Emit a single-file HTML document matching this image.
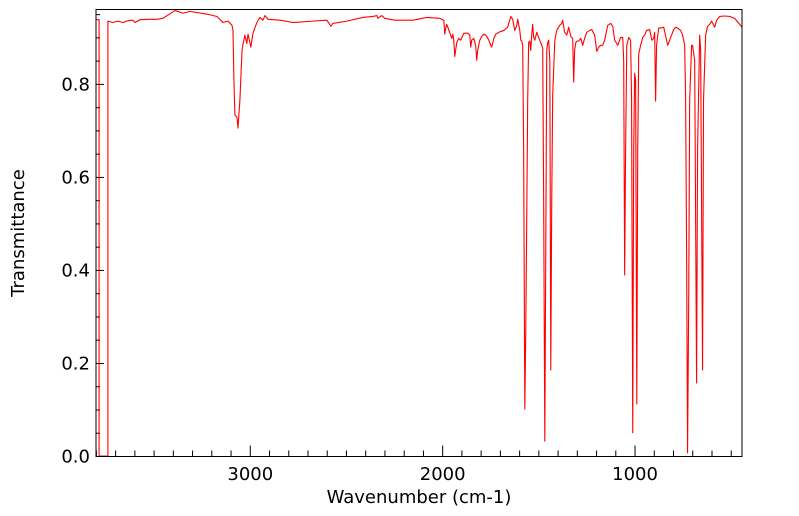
<!DOCTYPE html>
<html><head><meta charset="utf-8"><style>
html,body{margin:0;padding:0;background:#fff;}
svg{display:block;font-family:"DejaVu Sans","Liberation Sans",sans-serif;}
</style></head><body>
<svg id="chart" width="799" height="516" viewBox="0 0 799 516" xmlns="http://www.w3.org/2000/svg">
<rect x="0" y="0" width="799" height="516" fill="#fff"/>
<g id="ticks"></g>
<path id="spectrum" fill="none" stroke="#ff0000" stroke-width="1.1" stroke-linejoin="round"/>
<rect x="96" y="9.5" width="646" height="447" fill="none" stroke="#000" stroke-width="1"/>
<text x="419" y="503" font-size="18" text-anchor="middle">Wavenumber (cm-1)</text>
<text x="24" y="233" font-size="18" text-anchor="middle" transform="rotate(-90 24 233)">Transmittance</text>
</svg>
<script>
const wavenumbers = [3802,3786,3786,3740,3740,3714,3688,3662,3636,3610,3599,3574,3522,3485,3454,3391,3350,3314,3225,3173,3142,3116,3095,3090,3085,3080,3069,3064,3054,3043,3038,3028,3018,3012,2997,2986,2966,2950,2934,2924,2908,2846,2778,2675,2602,2581,2571,2498,2415,2363,2342,2337,2316,2301,2249,2155,2082,2015,1994,1989,1984,1979,1973,1968,1963,1953,1947,1942,1937,1927,1916,1906,1890,1880,1869,1859,1854,1849,1838,1828,1823,1818,1807,1797,1786,1776,1760,1750,1745,1734,1724,1703,1682,1662,1646,1636,1625,1615,1610,1599,1594,1589,1584,1579,1573,1568,1563,1558,1553,1547,1542,1537,1532,1527,1521,1511,1501,1485,1480,1475,1469,1464,1459,1454,1449,1443,1438,1433,1428,1417,1407,1392,1381,1376,1366,1355,1345,1334,1324,1319,1314,1308,1303,1293,1282,1272,1262,1251,1236,1225,1210,1199,1189,1179,1168,1158,1142,1126,1116,1106,1095,1090,1080,1075,1064,1059,1054,1049,1043,1033,1023,1018,1012,1007,1002,997,991,986,981,971,960,950,940,924,913,903,898,893,888,877,867,851,836,830,820,810,799,789,779,763,753,742,737,732,727,721,716,706,701,690,680,675,664,659,649,644,633,623,612,602,586,576,560,534,508,482,456,444];
const transmittance = [0.939,0.939,0.001,0.001,0.936,0.933,0.936,0.933,0.937,0.938,0.933,0.939,0.940,0.940,0.942,0.959,0.953,0.957,0.951,0.946,0.933,0.936,0.927,0.916,0.809,0.734,0.729,0.706,0.766,0.873,0.886,0.906,0.888,0.908,0.880,0.910,0.933,0.944,0.938,0.948,0.940,0.938,0.933,0.936,0.938,0.925,0.931,0.936,0.944,0.946,0.948,0.942,0.948,0.942,0.938,0.938,0.944,0.942,0.938,0.908,0.921,0.929,0.923,0.916,0.912,0.899,0.908,0.893,0.860,0.890,0.899,0.895,0.910,0.910,0.910,0.906,0.880,0.895,0.899,0.882,0.852,0.873,0.895,0.903,0.908,0.906,0.895,0.884,0.880,0.899,0.908,0.913,0.916,0.923,0.946,0.940,0.916,0.927,0.940,0.916,0.895,0.893,0.884,0.658,0.102,0.272,0.508,0.766,0.890,0.893,0.873,0.908,0.929,0.901,0.895,0.912,0.901,0.884,0.878,0.551,0.033,0.444,0.873,0.890,0.895,0.852,0.186,0.551,0.777,0.895,0.916,0.927,0.931,0.938,0.912,0.906,0.923,0.903,0.899,0.805,0.873,0.890,0.893,0.893,0.899,0.884,0.899,0.912,0.916,0.918,0.906,0.871,0.880,0.884,0.884,0.895,0.927,0.931,0.925,0.895,0.888,0.884,0.895,0.901,0.901,0.852,0.390,0.658,0.884,0.901,0.895,0.766,0.051,0.658,0.824,0.809,0.113,0.658,0.865,0.884,0.901,0.906,0.916,0.918,0.895,0.899,0.912,0.764,0.884,0.921,0.921,0.923,0.895,0.884,0.895,0.906,0.918,0.923,0.921,0.916,0.906,0.884,0.766,0.444,0.008,0.336,0.766,0.884,0.884,0.852,0.158,0.658,0.906,0.873,0.186,0.766,0.906,0.925,0.929,0.936,0.923,0.938,0.946,0.947,0.946,0.942,0.929,0.923];
const xTickValues = [3000,2000,1000];
const xTickLabels = ["3000","2000","1000"];
const yTickValues = [0,0.2,0.4,0.6,0.8];
const yTickLabels = ["0.0","0.2","0.4","0.6","0.8"];

const X0=96,X1=742,Y0=456.5,Y1=9.5;
const W_LEFT=3802,W_RIGHT=444,T_MIN=0,T_MAX=0.961;
function xScale(w){return X0+(W_LEFT-w)/(W_LEFT-W_RIGHT)*(X1-X0);}
function yScale(t){return Y0-(t-T_MIN)/(T_MAX-T_MIN)*(Y0-Y1);}

let d='';
for(let i=0;i<wavenumbers.length;i++){
  d+=(i?'L':'M')+xScale(wavenumbers[i]).toFixed(2)+' '+yScale(transmittance[i]).toFixed(2);
}
document.getElementById('spectrum').setAttribute('d',d);

const NS='http://www.w3.org/2000/svg';
const g=document.getElementById('ticks');
function line(x1,y1,x2,y2,name){
  const l=document.createElementNS(NS,'line');
  l.setAttribute('x1',x1);l.setAttribute('y1',y1);l.setAttribute('x2',x2);l.setAttribute('y2',y2);
  l.setAttribute('stroke','#000');l.setAttribute('stroke-width','1');
  
  
  g.appendChild(l);
}
function text(x,y,s,anchor,name){
  const t=document.createElementNS(NS,'text');
  t.setAttribute('x',x);t.setAttribute('y',y);t.setAttribute('font-size','18');
  t.setAttribute('text-anchor',anchor);t.textContent=s;
  
  
  g.appendChild(t);
}
for(let w=500;w<=3800;w+=100){
  const x=xScale(w);
  if(x<X0||x>X1)continue;
  const major=(w%1000===0);
  line(x,Y0,x,Y0-(major?11:6),'x-tick');
}
xTickValues.forEach((v,i)=>text(xScale(v),480,xTickLabels[i],'middle','x-tick-label'));
for(let k=0;k<=19;k++){
  const v=k*0.05;
  if(v>T_MAX)break;
  const y=yScale(v);
  const major=(k%4===0);
  line(X0,y,X0+(major?8:4),y,'y-tick');
}
yTickValues.forEach((v,i)=>text(90,yScale(v)+6,yTickLabels[i],'end','y-tick-label'));
</script>
</body></html>
